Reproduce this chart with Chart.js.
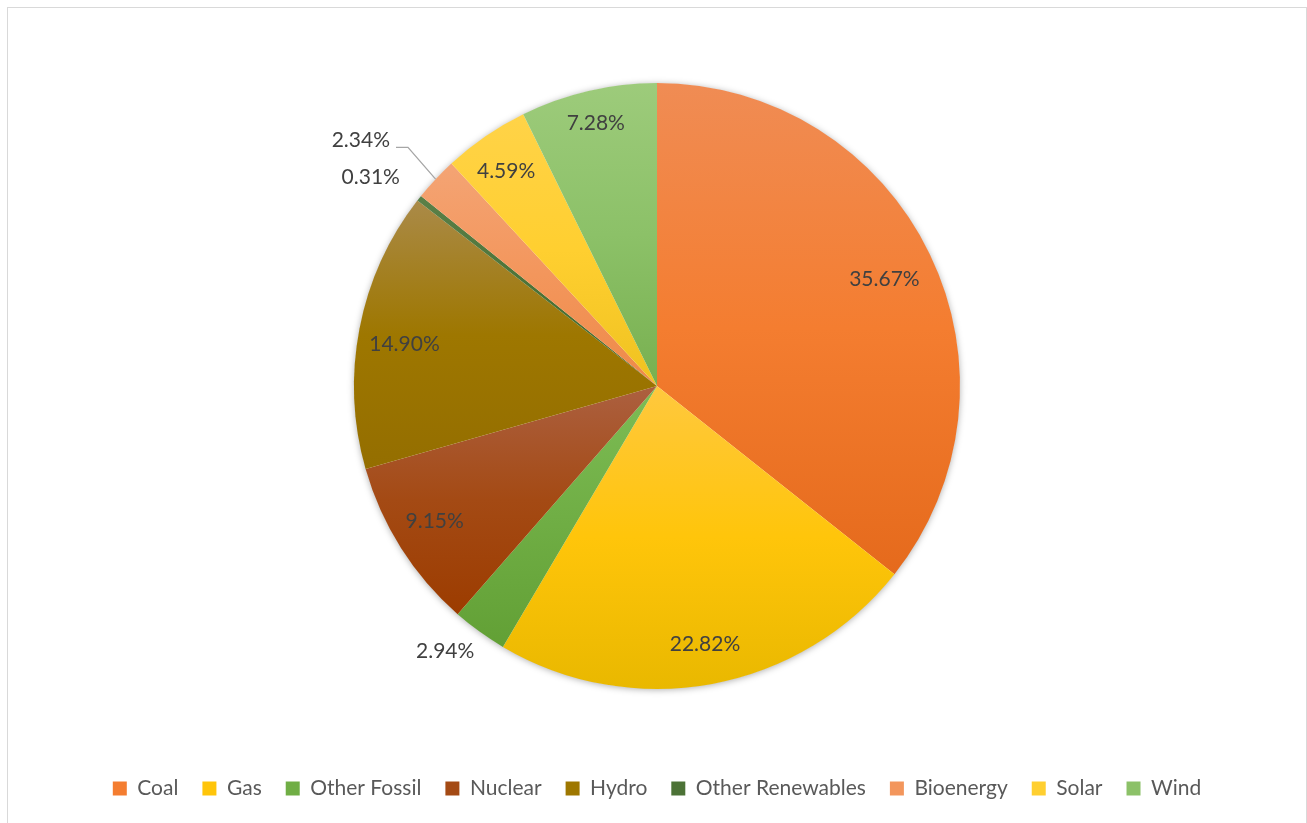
<!DOCTYPE html>
<html>
<head>
<meta charset="utf-8">
<script src="https://cdn.jsdelivr.net/npm/chart.js@4.4.1/dist/chart.umd.min.js"></script>
<style>
  html, body { margin: 0; padding: 0; background: #ffffff; overflow: hidden; }
  #wrap { position: absolute; left: 0; top: 0; width: 1307px; height: 823px; }
  #frame { position: absolute; left: 7px; top: 7px; width: 1298px; height: 830px; border: 1px solid #d9d9d9; pointer-events: none; }
</style>
</head>
<body>
<div id="wrap"><canvas id="c" width="1307" height="823"></canvas></div>
<div id="frame"></div>
<script>
// ---- data ----
const categories = ['Coal', 'Gas', 'Other Fossil', 'Nuclear', 'Hydro', 'Other Renewables', 'Bioenergy', 'Solar', 'Wind'];
const shares = [35.67, 22.82, 2.94, 9.15, 14.90, 0.31, 2.34, 4.59, 7.28];

// ---- styles (gradient stops: top, middle, bottom) ----
const topColors    = ['#F08C54', '#FFC83E', '#7DBD55', '#AC6040', '#AA8A48', '#5A8048', '#F4A474', '#FFD348', '#9DCB7B'];
const midColors    = ['#F47D30', '#FFC50A', '#70AE45', '#A44A14', '#9E7700', '#4C7236', '#F3965C', '#FFCF30', '#8CC168'];
const bottomColors = ['#E56A1C', '#E9B800', '#62A035', '#9C3C00', '#946E00', '#43682B', '#EE8A48', '#EFC220', '#78B050'];
// label placement: radius factor and pixel nudge
const labelRadius = [0.83, 0.868, 1.12, 0.861, 0.842, 1.17, 1.27, 0.868, 0.891];
const labelNudgeX = [1, 0, -13, -2, -2, -8, -15, -2, 0];
const labelNudgeY = [3, 0, -10, -4, 7, 11, 17, 2, 0];
const leaderLine  = [false, false, false, false, false, false, true, false, false];

const PIE_R = 303;

function sliceGradient(context) {
  const chart = context.chart;
  const ca = chart.chartArea;
  const i = context.dataIndex;
  if (!ca || i === undefined) return midColors[i || 0];
  const cx = (ca.left + ca.right) / 2, cy = (ca.top + ca.bottom) / 2;
  const total = shares.reduce((a, b) => a + b, 0);
  let cum = 0;
  for (let k = 0; k < i; k++) cum += shares[k];
  const a0 = -Math.PI / 2 + 2 * Math.PI * cum / total;
  const a1 = a0 + 2 * Math.PI * shares[i] / total;
  const ys = [cy, cy + PIE_R * Math.sin(a0), cy + PIE_R * Math.sin(a1)];
  [Math.PI / 2, 3 * Math.PI / 2, -Math.PI / 2].forEach(a => { if (a >= a0 && a <= a1) ys.push(cy + PIE_R * Math.sin(a)); });
  let y0 = Math.min(...ys), y1 = Math.max(...ys);
  if (y1 - y0 < 1) y1 = y0 + 1;
  const g = chart.ctx.createLinearGradient(0, y0, 0, y1);
  g.addColorStop(0, topColors[i]);
  g.addColorStop(0.5, midColors[i]);
  g.addColorStop(1, bottomColors[i]);
  return g;
}

const shadowPlugin = {
  id: 'pieShadow',
  beforeDatasetsDraw(chart) {
    const arc = chart.getDatasetMeta(0).data[0];
    if (!arc) return;
    const ctx = chart.ctx;
    ctx.save();
    ctx.shadowColor = 'rgba(0,0,0,0.35)';
    ctx.shadowBlur = 7;
    ctx.shadowOffsetX = 0;
    ctx.shadowOffsetY = 1;
    ctx.fillStyle = '#ffffff';
    ctx.beginPath();
    ctx.arc(arc.x, arc.y, arc.outerRadius - 0.5, 0, Math.PI * 2);
    ctx.fill();
    ctx.restore();
  }
};

const labelPlugin = {
  id: 'sliceLabels',
  afterDatasetsDraw(chart) {
    const ctx = chart.ctx;
    const meta = chart.getDatasetMeta(0);
    ctx.save();
    ctx.font = '21px Lato, "Open Sans", sans-serif';
    ctx.fillStyle = '#404040';
    ctx.textAlign = 'center';
    ctx.textBaseline = 'middle';
    meta.data.forEach((arc, i) => {
      const mid = (arc.startAngle + arc.endAngle) / 2;
      const r = arc.outerRadius * labelRadius[i];
      const x = arc.x + Math.cos(mid) * r + labelNudgeX[i];
      const y = arc.y + Math.sin(mid) * r + labelNudgeY[i];
      const txt = shares[i].toFixed(2) + '%';
      ctx.fillText(txt, x, y);
      if (leaderLine[i]) {
        const w = ctx.measureText(txt).width;
        const ex = arc.x + Math.cos(mid) * arc.outerRadius;
        const ey = arc.y + Math.sin(mid) * arc.outerRadius;
        const sx = x + w / 2 + 6, sy = y + 7;
        ctx.strokeStyle = '#A6A6A6';
        ctx.lineWidth = 1.3;
        ctx.beginPath();
        ctx.moveTo(sx, sy);
        ctx.lineTo(sx + 12, sy);
        ctx.lineTo(ex, ey);
        ctx.stroke();
      }
    });
    ctx.restore();
  }
};

function build() {
  new Chart(document.getElementById('c'), {
    type: 'pie',
    data: {
      labels: categories,
      datasets: [{
        data: shares,
        backgroundColor: sliceGradient,
        borderWidth: 0,
        radius: PIE_R
      }]
    },
    options: {
      responsive: false,
      animation: false,
      layout: { padding: { left: 7, right: 0, top: 18, bottom: 14 } },
      plugins: {
        tooltip: { enabled: false },
        legend: {
          position: 'bottom',
          labels: {
            font: { family: 'Lato, "Open Sans", sans-serif', size: 21 },
            color: '#595959',
            boxWidth: 14,
            boxHeight: 14,
            padding: 24,
            generateLabels(chart) {
              return categories.map((c, i) => ({
                text: c,
                fillStyle: midColors[i],
                strokeStyle: midColors[i],
                lineWidth: 0,
                hidden: false,
                index: i,
                fontColor: '#595959'
              }));
            }
          }
        }
      }
    },
    plugins: [shadowPlugin, labelPlugin]
  });
}

if (document.fonts && document.fonts.load) {
  Promise.all([document.fonts.load('21px Lato')]).then(build, build);
} else {
  build();
}
</script>
</body>
</html>
